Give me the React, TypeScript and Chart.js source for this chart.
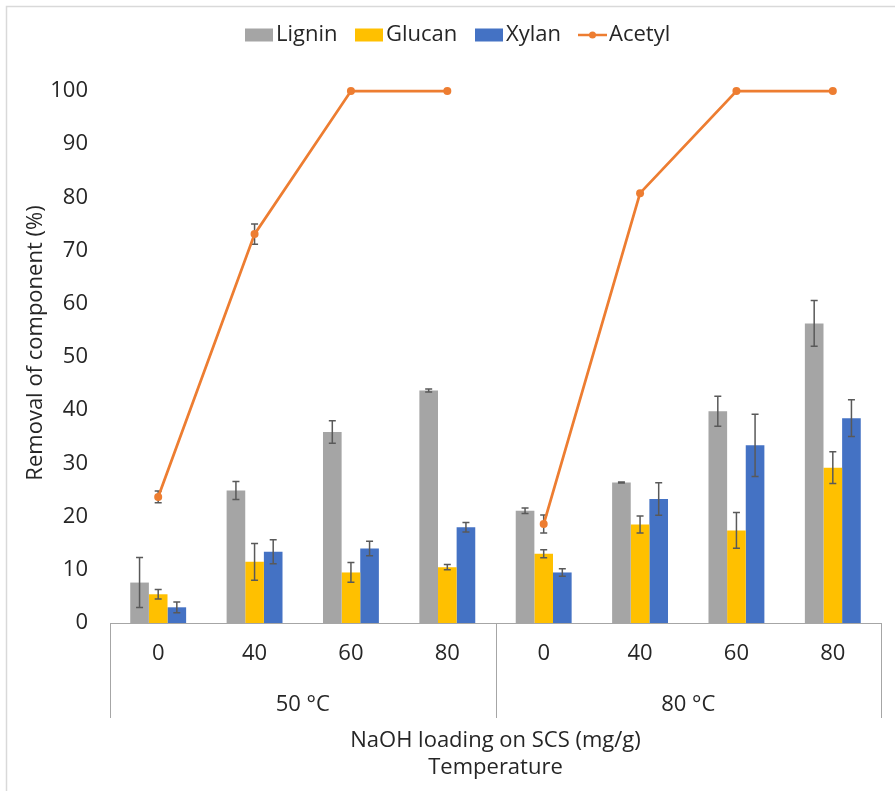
import React, { useEffect, useRef } from 'react';
import { Chart, registerables } from 'chart.js';

Chart.register(...registerables);

// ---- data ----
const categories = ['0', '40', '60', '80', '0', '40', '60', '80'];
const groups = ['50 °C', '80 °C'];
const xTitle1 = 'NaOH loading on SCS (mg/g)';
const xTitle2 = 'Temperature';
const yTitle = 'Removal of component (%)';

const lignin = [7.6, 24.9, 35.9, 43.7, 21.1, 26.4, 39.8, 56.3];
const ligninErr = [4.7, 1.7, 2.1, 0.3, 0.5, 0.1, 2.8, 4.3];
const glucan = [5.4, 11.5, 9.5, 10.5, 13.0, 18.5, 17.4, 29.2];
const glucanErr = [0.9, 3.45, 1.85, 0.5, 0.75, 1.6, 3.35, 3.0];
const xylan = [2.95, 13.4, 14.0, 18.0, 9.5, 23.3, 33.4, 38.5];
const xylanErr = [1.0, 2.25, 1.35, 0.9, 0.7, 3.05, 5.85, 3.45];
const acetyl = [23.7, 73.1, 100, 100, 18.6, 80.8, 100, 100];
const acetylErr = [1.1, 1.9, 0, 0, 1.7, 0, 0, 0];

const FONT = '"Open Sans", sans-serif';
const TEXT = '#262626';
const AXIS = '#A6A6A6';
const C_LIGNIN = '#A5A5A5';
const C_GLUCAN = '#FFC000';
const C_XYLAN = '#4472C4';
const C_ACETYL = '#ED7D31';

function drawErrors(chart: any, index: number) {
  const ds: any = chart.data.datasets[index];
  const errs: number[] | undefined = ds.errors;
  if (!errs) return;
  const ctx = chart.ctx;
  const y = chart.scales.y;
  const meta = chart.getDatasetMeta(index);
  ctx.save();
  ctx.strokeStyle = '#595959';
  ctx.lineWidth = 1.5;
  meta.data.forEach((el: any, i: number) => {
    const e = errs[i];
    if (!e) return;
    const v = ds.data[i] as number;
    const x = el.x;
    const y1 = y.getPixelForValue(v + e);
    const y2 = y.getPixelForValue(v - e);
    ctx.beginPath();
    ctx.moveTo(x, y1);
    ctx.lineTo(x, y2);
    ctx.moveTo(x - 3.5, y1);
    ctx.lineTo(x + 3.5, y1);
    ctx.moveTo(x - 3.5, y2);
    ctx.lineTo(x + 3.5, y2);
    ctx.stroke();
  });
  ctx.restore();
}

const errorBarPlugin = {
  id: 'errorBars',
  beforeDatasetDraw(chart: any, args: any) {
    if (chart.data.datasets[args.index].type === 'line') drawErrors(chart, args.index);
  },
  afterDatasetDraw(chart: any, args: any) {
    if (chart.data.datasets[args.index].type !== 'line') drawErrors(chart, args.index);
  },
};

const decorPlugin = {
  id: 'decor',
  afterDraw(chart: any) {
    const ctx = chart.ctx;
    const area = chart.chartArea;
    const xs = chart.scales.x;
    ctx.save();

    // outer frame (top & left)
    ctx.strokeStyle = '#D9D9D9';
    ctx.lineWidth = 1.5;
    ctx.beginPath();
    ctx.moveTo(6.5, chart.height);
    ctx.lineTo(6.5, 6.5);
    ctx.lineTo(chart.width, 6.5);
    ctx.stroke();

    // category box lines
    const boxBottom = area.bottom + 95;
    const mid = (xs.getPixelForValue(3) + xs.getPixelForValue(4)) / 2;
    ctx.strokeStyle = AXIS;
    ctx.lineWidth = 1;
    ctx.beginPath();
    [area.left, mid, area.right].forEach((x: number) => {
      const px = Math.round(x) + 0.5;
      ctx.moveTo(px, area.bottom);
      ctx.lineTo(px, boxBottom);
    });
    ctx.stroke();

    // group labels
    ctx.fillStyle = TEXT;
    ctx.font = `22px ${FONT}`;
    ctx.textAlign = 'center';
    ctx.textBaseline = 'middle';
    ctx.fillText(groups[0], (area.left + mid) / 2, area.bottom + 82);
    ctx.fillText(groups[1], (mid + area.right) / 2, area.bottom + 82);

    // x titles
    const cx = (area.left + area.right) / 2;
    ctx.fillText(xTitle1, cx, 741);
    ctx.fillText(xTitle2, cx, 768);

    // y title
    ctx.save();
    ctx.translate(36, 343);
    ctx.rotate(-Math.PI / 2);
    ctx.fillText(yTitle, 0, 0);
    ctx.restore();

    // legend
    const ly = 35;
    const items = [
      { x: 245, label: 'Lignin', color: C_LIGNIN, line: false },
      { x: 355, label: 'Glucan', color: C_GLUCAN, line: false },
      { x: 475, label: 'Xylan', color: C_XYLAN, line: false },
      { x: 578, label: 'Acetyl', color: C_ACETYL, line: true },
    ];
    ctx.textAlign = 'left';
    items.forEach((it) => {
      if (it.line) {
        ctx.strokeStyle = it.color;
        ctx.lineWidth = 2.5;
        ctx.beginPath();
        ctx.moveTo(it.x, ly);
        ctx.lineTo(it.x + 29, ly);
        ctx.stroke();
        ctx.fillStyle = it.color;
        ctx.beginPath();
        ctx.arc(it.x + 14.5, ly, 3.5, 0, Math.PI * 2);
        ctx.fill();
      } else {
        ctx.fillStyle = it.color;
        ctx.fillRect(it.x, ly - 6.5, 28, 13);
      }
      ctx.fillStyle = TEXT;
      ctx.fillText(it.label, it.x + 31, ly);
    });

    ctx.restore();
  },
};

export default function App() {
  const ref = useRef<HTMLCanvasElement>(null);

  useEffect(() => {
    if (!ref.current) return;
    const barCommon = { categoryPercentage: 0.58, barPercentage: 1.0, order: 2, borderWidth: 0 };
    const chart = new Chart(ref.current, {
      type: 'bar',
      data: {
        labels: categories,
        datasets: [
          { type: 'bar', label: 'Lignin', data: lignin, errors: ligninErr, backgroundColor: C_LIGNIN, ...barCommon } as any,
          { type: 'bar', label: 'Glucan', data: glucan, errors: glucanErr, backgroundColor: C_GLUCAN, ...barCommon } as any,
          { type: 'bar', label: 'Xylan', data: xylan, errors: xylanErr, backgroundColor: C_XYLAN, ...barCommon } as any,
          {
            type: 'line',
            label: 'Acetyl',
            data: acetyl,
            errors: acetylErr,
            order: 1,
            clip: false,
            borderColor: C_ACETYL,
            backgroundColor: C_ACETYL,
            borderWidth: 2.75,
            pointRadius: 4,
            pointBorderWidth: 0,
            pointBackgroundColor: C_ACETYL,
            tension: 0,
            segment: {
              borderColor: (c: any) => (c.p0DataIndex === 3 ? 'rgba(0,0,0,0)' : undefined),
            },
          } as any,
        ],
      },
      options: {
        animation: false,
        responsive: true,
        maintainAspectRatio: false,
        layout: { padding: { top: 91, right: 14, left: 0, bottom: 0 } },
        plugins: { legend: { display: false }, tooltip: { enabled: false } },
        scales: {
          x: {
            grid: { display: false, drawTicks: false },
            border: { display: true, color: AXIS, width: 1 },
            ticks: { font: { family: FONT, size: 22 }, color: TEXT, padding: 18, maxRotation: 0, autoSkip: false },
            afterFit: (s: any) => { s.height = 168; },
          },
          y: {
            min: 0,
            max: 100,
            grid: { display: false, drawTicks: false },
            border: { display: false },
            ticks: { stepSize: 10, font: { family: FONT, size: 22 }, color: TEXT, padding: 22 },
            afterFit: (s: any) => { s.width = 110; },
          },
        },
      } as any,
      plugins: [errorBarPlugin, decorPlugin],
    });
    return () => chart.destroy();
  }, []);

  return (
    <div style={{ position: 'absolute', left: 0, top: 0, width: 895, height: 791, background: '#fff' }}>
      <canvas ref={ref} />
    </div>
  );
}
